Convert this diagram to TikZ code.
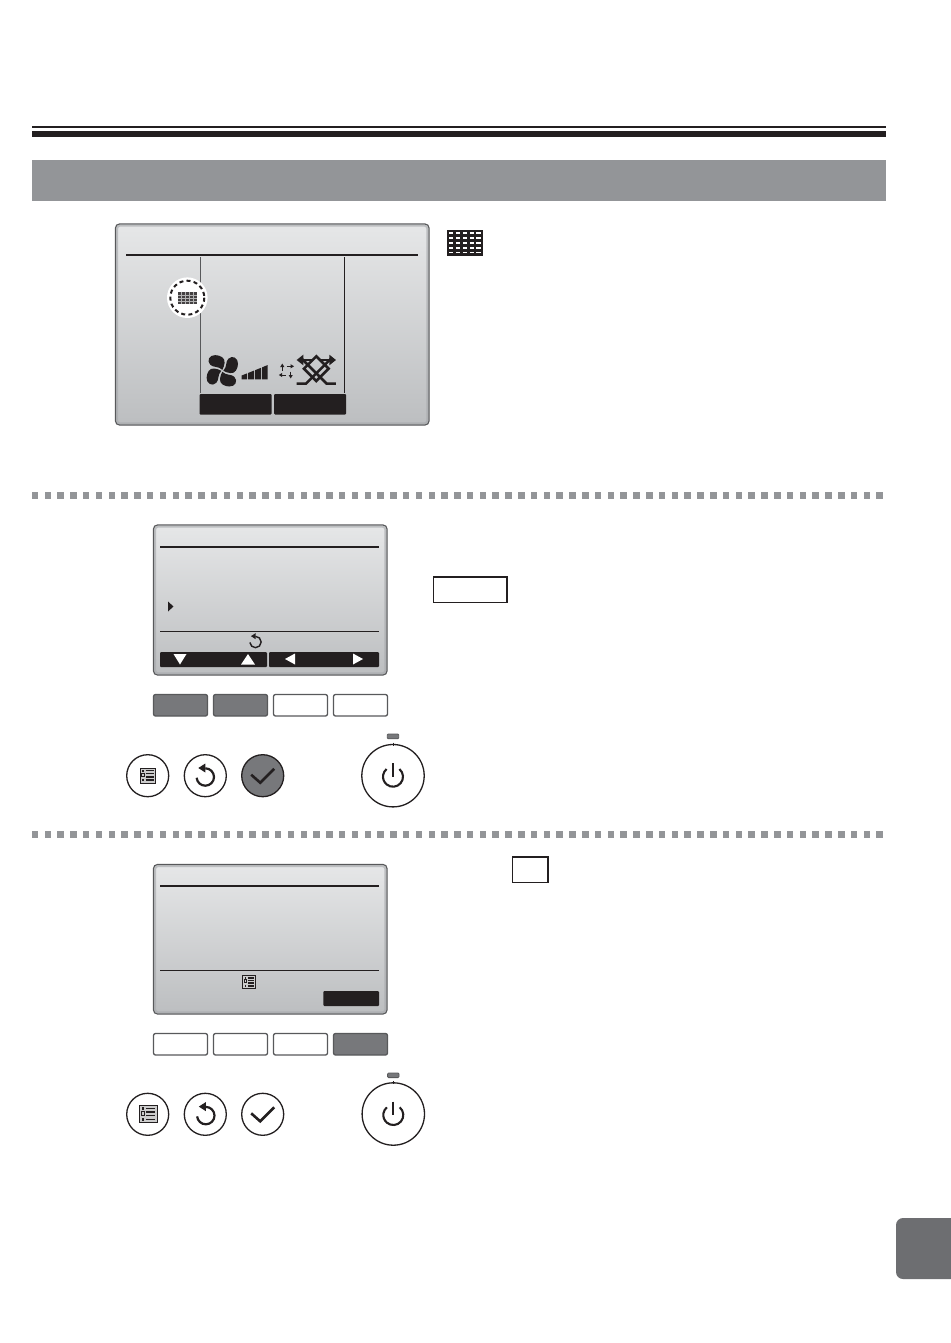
\documentclass[tikz,border=0pt]{standalone}
\usetikzlibrary{calc}
\definecolor{ink}{HTML}{231F20}
\definecolor{band}{HTML}{939598}
\definecolor{tab}{HTML}{6D6E71}
\definecolor{pressed}{HTML}{77787B}
\definecolor{lcdtop}{HTML}{E6E7E8}
\definecolor{lcdbot}{HTML}{BCBEC0}
\definecolor{frame}{HTML}{58595B}
\definecolor{bevel}{HTML}{A7A9AC}
\tikzset{
  x=1pt,y=-1pt,
  lcd/.style={draw=frame,line width=1.2pt,rounded corners=4pt,top color=lcdtop,bottom color=lcdbot},
  lcdbevel/.style={draw=bevel,line width=2pt,rounded corners=3pt,opacity=.65},
  softkey/.style={draw=frame,line width=1.3pt,rounded corners=2pt,fill=white},
  softkeyon/.style={softkey,fill=pressed},
  roundkey/.style={draw=ink,line width=1.3pt,fill=white},
  roundkeyon/.style={roundkey,fill=pressed},
  lcdrule/.style={draw=ink,line width=1.2pt},
  blackkey/.style={fill=ink,rounded corners=1pt},
  boxed/.style={draw=ink,line width=1.6pt,fill=white},
  glyph/.style={draw=ink,line width=2.6pt,line cap=butt,line join=miter},
  led/.style={draw=frame,line width=.8pt,fill=pressed,rounded corners=1pt},
}
\newcommand{\lcdbox}[4]{%
  \path[lcd] (#1,#2) rectangle (#3,#4);
  \path[lcdbevel] (#1+1.6,#2+1.6) rectangle (#3-1.6,#4-1.6);}
% grid icon: #1 x, #2 y, #3 w, #4 h
\newcommand{\gridicon}[4]{%
  \fill[ink] (#1,#2) rectangle ++(#3,#4);
  \pgfmathsetmacro{\cw}{(#3-1.5)/5}\pgfmathsetmacro{\rh}{(#4-1.5)/5}
  \foreach \i in {0,...,4}\foreach \j in {0,...,4}{
    \fill[white] ({#1+.75+\i*\cw+0.2*\cw},{#2+.75+\j*\rh+0.3*\rh}) rectangle ++({0.6*\cw},{0.4*\rh});
  }}
\newcommand{\listicon}[3]{% cx cy scale
  \begin{scope}[shift={(#1,#2)},scale=#3]
    \draw[ink,line width=.9pt,fill=white!80!black] (-7.5,-7.5) rectangle (7.5,7.5);
    \foreach \yy in {-5,-2,1.2,4.5}{\draw[ink,line width=1.5pt] (-2,\yy) -- (6,\yy);}
    \foreach \yy in {-5,4.5}{\fill[ink] (-5.5,\yy-1) rectangle (-3.5,\yy+1);}
    \draw[ink,line width=.6pt] (-6,-2.8) rectangle (-3.5,.8);
  \end{scope}}
\newcommand{\returnicon}[3]{% cx cy scale
  \begin{scope}[shift={(#1,#2)},scale=#3]
    \draw[ink,line width=#3*2.2pt] (0,0) ++(-90:8.7) arc[start angle=-90,end angle=175,radius=8.7];
    \fill[ink] (-7,-9) -- (0,-13.5) -- (0,-4.5) -- cycle;
  \end{scope}}
\newcommand{\checkicon}[2]{%
  \draw[ink,line width=2.6pt,line join=miter] (#1-11.5,#2-1) -- (#1-2.5,#2+7) -- (#1+11.5,#2-7);}
\newcommand{\powericon}[2]{%
  \draw[ink,line width=2.1pt] (#1,#2+1) ++(-50:10) arc[start angle=-50,end angle=230,radius=10];
  \draw[ink,line width=2.1pt] (#1,#2-12.5) -- (#1,#2+1);
  \draw[ink,line width=.8pt] (#1,#2-33) -- (#1,#2-30);}
\begin{document}
\begin{tikzpicture}
\useasboundingbox (0,0) rectangle (950,1343);
\fill[white] (0,0) rectangle (950,1343);

% header
\fill[ink] (32,126) rectangle (886,128.2);
\fill[ink] (32,131) rectangle (886,137);
\fill[band] (32,160) rectangle (886,201.5);

% page tab
\fill[tab,rounded corners=7pt] (965,1218) -- (896,1218) -- (896,1279) -- (965,1279) -- cycle;

% dotted dividers
\foreach \k in {0,...,66}{
  \fill[band] ({31.8+\k*12.797},492.3) rectangle ++(6.5,6.5);
  \fill[band] ({31.8+\k*12.797},831.3) rectangle ++(6.5,6.5);
}

% ---------- screen 1
\lcdbox{115.5}{224}{429}{425}
\draw[ink,line width=2pt] (126,254.5) -- (418,254.5);
\draw[frame,line width=1pt] (200,257) -- (200,393);
\draw[ink,line width=1pt] (344.5,257) -- (344.5,393);
\path[blackkey] (199.5,394) rectangle (271.5,414.5);
\path[blackkey] (274,394) rectangle (346,414.5);
% highlighted timer icon
\fill[white] (187.3,297.7) circle (20.3);
\draw[ink,line width=2pt,dash pattern=on 4pt off 3.2pt] (187.3,297.7) circle (17);
\fill[ink!85] (177.7,291.7) rectangle (196.7,304.2);
\foreach \i in {1,...,4}{\draw[white!70!black,line width=.4pt] ({177.7+\i*3.8},291.7) -- ({177.7+\i*3.8},304.2);}
\foreach \j in {1,...,3}{\draw[white!70!black,line width=.4pt] (177.7,{291.7+\j*3.1}) -- (196.7,{291.7+\j*3.1});}
% fan
\begin{scope}[shift={(222.3,370.8)}]
  \foreach \a in {0,90,180,270}{
    \begin{scope}[rotate=\a]
      \fill[ink] (0,-1) .. controls (-4,-5) and (-9,-3) .. (-12,-6) .. controls (-16,-10) and (-13,-16) .. (-7,-15.7) .. controls (-2,-15.5) and (3,-13) .. (2.3,-8) .. controls (2,-5) and (1,-3) .. (0,-1) -- cycle;
    \end{scope}
  }
\end{scope}
% signal bars
\fill[ink] (241.7,379.4) -- (241.7,375.5) -- (247,373.4) -- (247,379.4) -- cycle
           (248,379.4) -- (248,373) -- (254,370.6) -- (254,379.4) -- cycle
           (255,379.4) -- (255,370.2) -- (261,367.8) -- (261,379.4) -- cycle
           (262,379.4) -- (262,367.4) -- (267.7,365) -- (267.7,379.4) -- cycle;
% small arrows
\begin{scope}[ink,line width=.9pt]
  \draw (282.3,366) -- (282.3,370.5);
  \fill (282.3,363.6) -- (280.2,367) -- (284.4,367) -- cycle;
  \draw (286.5,366.3) -- (291,366.3);
  \fill (294,366.3) -- (290.5,364.2) -- (290.5,368.4) -- cycle;
  \draw (281,375) -- (285.8,375);
  \fill (278.8,375) -- (282.2,372.9) -- (282.2,377.1) -- cycle;
  \draw (290.7,371.5) -- (290.7,376);
  \fill (290.7,378.4) -- (288.6,375) -- (292.8,375) -- cycle;
\end{scope}
% vane lattice (drawn on the 3x grid of the detail crop)
\begin{scope}[shift={(100,215)},x=.3333pt,y=-.3333pt]
  \draw[glyph] (590,506) -- (618,506) -- (692,432);
  \draw[glyph] (708,506) -- (680,506) -- (606,432);
  \draw[glyph] (649,498) -- (612,461) -- (649,424) -- (686,461) -- cycle;
  \draw[glyph] (600,435) -- (636,435);
  \draw[glyph] (662,435) -- (698,435);
  \fill[ink] (590,435) -- (610,419) -- (610,451) -- cycle;
  \fill[ink] (708,435) -- (688,419) -- (688,451) -- cycle;
\end{scope}
% big timer icon
\gridicon{446.7}{230}{36}{25.7}

% ---------- screen 2
\lcdbox{153.5}{525}{387}{675}
\path[lcdrule] (160,547) -- (379,547);
\path[lcdrule] (160,631.5) -- (379,631.5);
\fill[ink] (168,601.5) -- (173.5,606.5) -- (168,611.5) -- cycle;
\returnicon{255.5}{642}{.65}
\path[blackkey] (160,652) rectangle (267,667);
\path[blackkey] (269,652) rectangle (379,667);
\fill[white] (173.5,654) -- (186.5,654) -- (180,664.5) -- cycle;
\fill[white] (241,664.5) -- (255,664.5) -- (248,654) -- cycle;
\fill[white] (285,659) -- (295,653.5) -- (295,664.5) -- cycle;
\fill[white] (353,653.5) -- (363,659) -- (353,664.5) -- cycle;
\path[softkeyon] (153.5,694.5) rectangle (207.5,716);
\path[softkeyon] (213.5,694.5) rectangle (267.5,716);
\path[softkey] (273.5,694.5) rectangle (327.5,716);
\path[softkey] (333.5,694.5) rectangle (387.5,716);
\path[roundkey] (147.7,775.7) circle (21);
\listicon{147.7}{775.7}{1}
\path[roundkey] (205.3,775.7) circle (21);
\returnicon{205.3}{777}{1}
\path[roundkeyon] (262.7,775.7) circle (21);
\checkicon{262.7}{775.7}
\path[roundkey] (393,775.7) circle (31.2);
\powericon{393}{775.7}
\path[led] (387.3,734) rectangle (398.7,738.8);
\path[boxed] (433.5,576.7) rectangle (506.7,602.3);

% ---------- screen 3
\lcdbox{153.5}{864.5}{387}{1014}
\path[lcdrule] (160,886) -- (379,886);
\path[lcdrule] (160,970.7) -- (379,970.7);
\listicon{249.3}{982}{.85}
\path[blackkey] (323.3,991) rectangle (379,1006);
\path[softkey] (153.5,1033.5) rectangle (207.5,1055);
\path[softkey] (213.5,1033.5) rectangle (267.5,1055);
\path[softkey] (273.5,1033.5) rectangle (327.5,1055);
\path[softkeyon] (333.5,1033.5) rectangle (387.5,1055);
\path[roundkey] (147.7,1114.3) circle (21);
\listicon{148.5}{1114.3}{1.15}
\path[roundkey] (205.3,1114.3) circle (21);
\returnicon{205.8}{1115.6}{1}
\path[roundkey] (262.7,1114.3) circle (21);
\checkicon{262.7}{1114.3}
\path[roundkey] (393.3,1114) circle (31.2);
\powericon{393.3}{1114}
\path[led] (387.6,1073) rectangle (399,1077.6);
\path[boxed] (512.3,856.7) rectangle (547.7,882.3);
\end{tikzpicture}
\end{document}
